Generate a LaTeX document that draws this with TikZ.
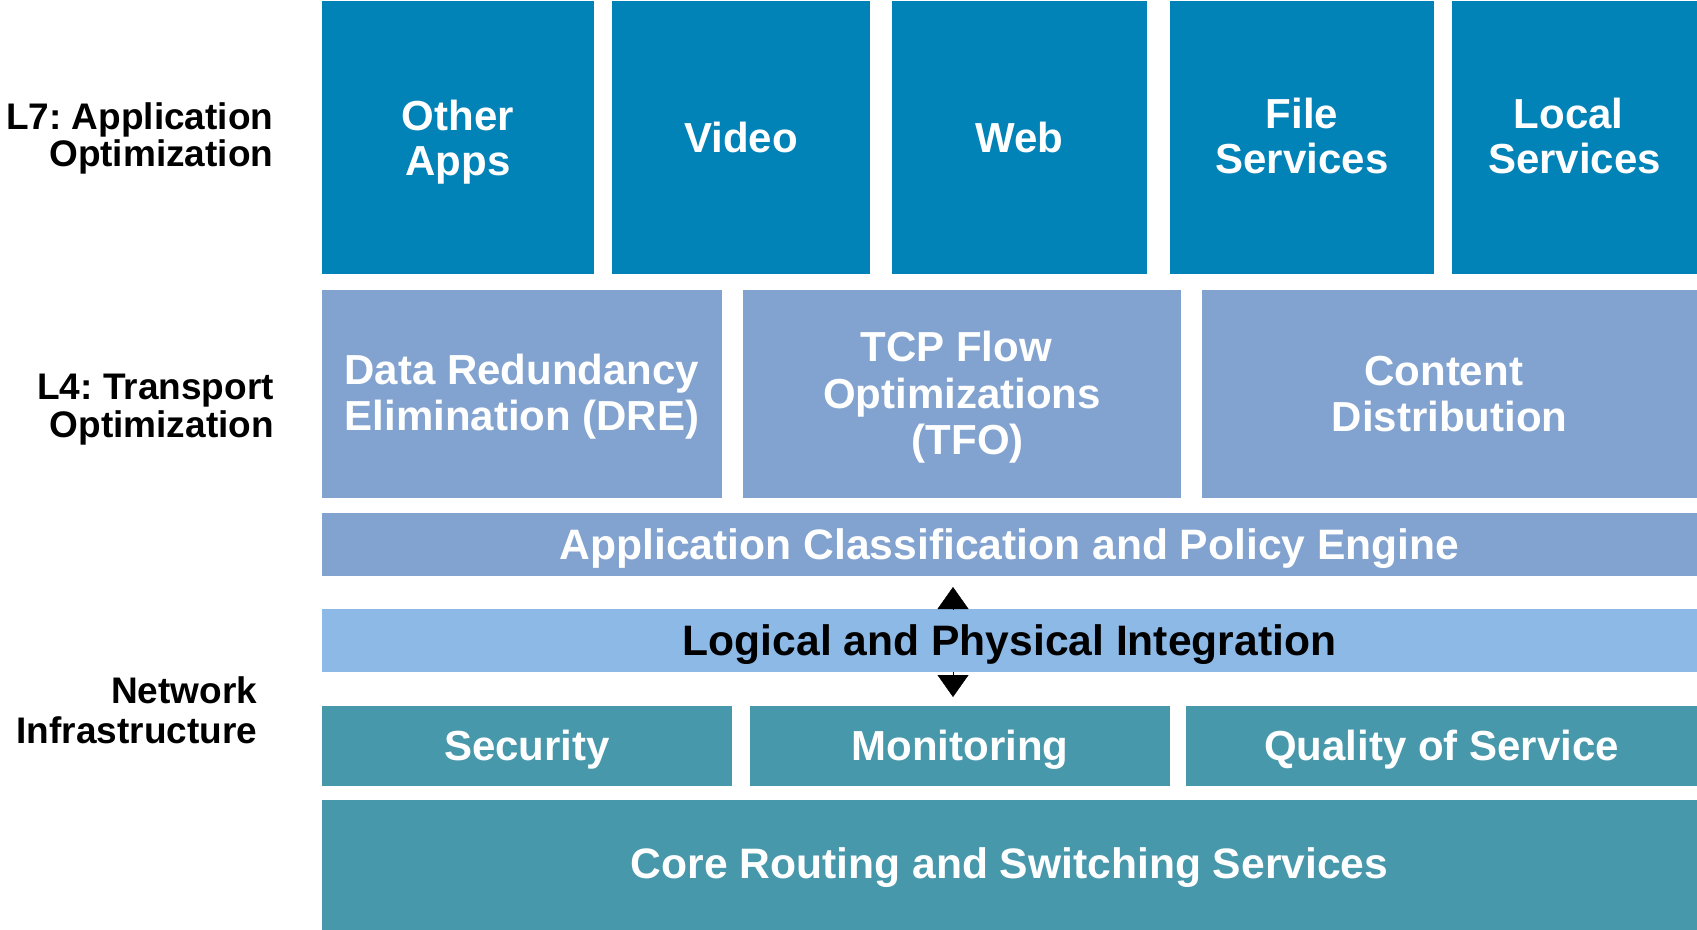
\documentclass[tikz,border=0pt]{standalone}
\usepackage{fontspec}
\setmainfont{Liberation Sans}
\usetikzlibrary{arrows.meta}
\frenchspacing
\definecolor{appblue}{HTML}{0283B8}
\definecolor{trpblue}{HTML}{82A3CF}
\definecolor{intblue}{HTML}{8DB9E6}
\definecolor{netteal}{HTML}{4898AC}
\tikzset{
  box/.style={draw=none, inner sep=0pt, outer sep=0pt, rectangle},
  txt/.style={font=\bfseries\fontsize{42}{45.5}\selectfont, text=white, align=center, inner sep=0pt, anchor=base},
  wide/.style={font=\bfseries\fontsize{42.6}{45.5}\selectfont},
  side/.style={font=\bfseries\fontsize{37}{38}\selectfont, text=black, align=right, inner sep=0pt, anchor=base east},
  tipline/.style={line width=0.4pt, black, -{Triangle[length=22pt,width=31pt]}}
}
\begin{document}
\begin{tikzpicture}[x=1pt,y=-1pt]
\useasboundingbox (0,0) rectangle (1697,929);
% row 1
\node[box, fill=appblue, minimum width=272pt, minimum height=273pt] (oth) at (458,137.5) {};
\node[box, fill=appblue, minimum width=258pt, minimum height=273pt] (vid) at (741,137.5) {};
\node[box, fill=appblue, minimum width=255pt, minimum height=273pt] (web) at (1019.5,137.5) {};
\node[box, fill=appblue, minimum width=264pt, minimum height=273pt] (fil) at (1302,137.5) {};
\node[box, fill=appblue, minimum width=245pt, minimum height=273pt] (loc) at (1574.5,137.5) {};
% row 2
\node[box, fill=trpblue, minimum width=400pt, minimum height=208pt] (dre) at (522,394) {};
\node[box, fill=trpblue, minimum width=438pt, minimum height=208pt] (tfo) at (962,394) {};
\node[box, fill=trpblue, minimum width=495pt, minimum height=208pt] (cd) at (1449.5,394) {};
% row 3, 4
\node[box, fill=trpblue, minimum width=1375pt, minimum height=63pt] (acpe) at (1009.5,544.5) {};
\node[box, fill=intblue, minimum width=1375pt, minimum height=63pt] (lpi) at (1009.5,640.5) {};
% row 5
\node[box, fill=netteal, minimum width=410pt, minimum height=80pt] (sec) at (527,746) {};
\node[box, fill=netteal, minimum width=420pt, minimum height=80pt] (mon) at (960,746) {};
\node[box, fill=netteal, minimum width=511pt, minimum height=80pt] (qos) at (1441.5,746) {};
% row 6
\node[box, fill=netteal, minimum width=1375pt, minimum height=130pt] (core) at (1009.5,865) {};

% texts (base anchor = baseline of the last line)
\node[txt] (othT) at (458,175.5) {Other\\Apps};
\node[txt] (vidT) at (741,152.3) {Video};
\node[txt] (webT) at (1019.5,152.3) {Web};
\node[txt] (filT) at (1302,173.5) {File\\Services};
\node[txt] (locT) at (1574.5,173.5) {Local\kern.278em\\Services};

\node[txt, font=\bfseries\fontsize{42}{46.7}\selectfont] (dreT) at (522,430.7) {Data Redundancy\\Elimination (DRE)};
\node[txt, font=\bfseries\fontsize{42}{46.5}\selectfont] (tfoT) at (962,454.7) {TCP Flow\kern.278em\\Optimizations\\\kern.278em(TFO)};
\node[txt, font=\bfseries\fontsize{42}{46}\selectfont] (cdT) at (1449.5,431) {Content\kern.278em\\Distribution};

\node[txt, wide] (acpeT) at (1009.5,559.3) {Application Classification and Policy Engine};
\node[txt, wide, text=black] (lpiT) at (1009.5,655) {Logical and Physical Integration};

\node[txt] (secT) at (527,760) {Security};
\node[txt] (monT) at (960,760) {Monitoring};
\node[txt] (qosT) at (1441.5,760) {Quality of Service};
\node[txt, wide] (coreT) at (1009.5,878.3) {Core Routing and Switching Services};

% side labels
\node[side, font=\bfseries\fontsize{37}{37.5}\selectfont] (l7) at (273.5,166.6) {L7: Application\\Optimization};
\node[side, font=\bfseries\fontsize{37}{38}\selectfont] (l4) at (274,437.1) {L4: Transport\\Optimization};
\node[side, font=\bfseries\fontsize{37}{40}\selectfont] (net) at (257.3,743) {Network\\Infrastructure};

% arrows
\coordinate (ax) at (953,0);
\draw[tipline, shorten >=11pt] (lpi.north -| ax) -- (acpe.south -| ax);
\draw[tipline, shorten >=9pt] (lpi.south -| ax) -- (sec.north -| ax);
\end{tikzpicture}
\end{document}
